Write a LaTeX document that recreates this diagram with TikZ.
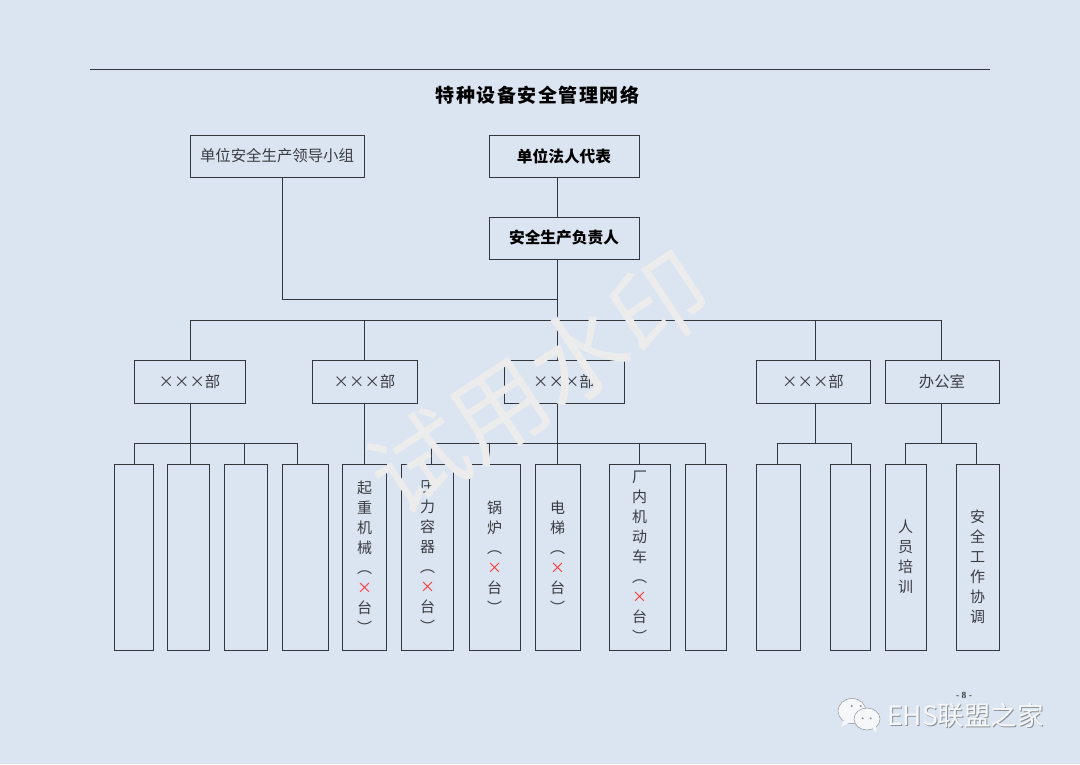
\documentclass[tikz,border=0pt]{standalone}
\usepackage{fontspec}
\setmainfont{Noto Sans CJK SC}
\newfontfamily\latinfont{Liberation Serif}
\usepackage{xcolor}
\usetikzlibrary{positioning,calc}
\definecolor{pagebg}{HTML}{DBE5F1}
\definecolor{inkline}{HTML}{33373D}
\definecolor{inktext}{HTML}{3A3D42}
\definecolor{markgray}{HTML}{ECECEC}
\definecolor{logowhite}{HTML}{F6F7F9}
\definecolor{logoshade}{HTML}{8E939A}
\newcommand{\redx}{\textcolor{red!80!white}{×}}
\tikzset{
  linkline/.style={draw=inkline,line width=1pt},
  topbox/.style={draw=inkline,line width=1pt,inner sep=0pt,minimum height=42pt,text=inktext,font=\fontsize{15.4}{20}\selectfont},
  deptbox/.style={draw=inkline,line width=1pt,inner sep=0pt,minimum height=43pt,text=inktext,font=\fontsize{15.4}{20}\selectfont},
  tallbox/.style={draw=inkline,line width=1pt,inner sep=0pt,minimum height=186pt,text=inktext,align=center,font=\fontsize{15}{20}\selectfont},
  boldbox/.style={topbox,minimum width=150pt,font=\fontsize{15.7}{20}\bfseries\selectfont,text=black},
  logobubble/.style={fill=logowhite,draw=logoshade,line width=0.5pt},
  logoeye/.style={fill=logoshade,draw=none},
}
\begin{document}
\begin{tikzpicture}[x=1pt,y=-1pt]
  \path[use as bounding box,fill=pagebg] (0,0) rectangle (1080,764);

  % head rule and title
  \coordinate (ruleL) at (90,69.5);
  \coordinate (ruleR) at (990,69.5);
  \draw[linkline] (ruleL) -- (ruleR);
  \node[font=\fontsize{19}{20}\bfseries\selectfont,text=black] (title) at (537.5,95) {\addfontfeature{LetterSpace=8}特种设备安全管理网络};

  % top level
  \node[topbox,minimum width=174pt] (leader) at (277,156) {单位安全生产领导小组};
  \node[boldbox] (legal) at (564,156) {单位法人代表};
  \node[boldbox] (safety) at (564,238) {安全生产负责人};

  % departments
  \node[deptbox,minimum width=111pt] (deptA) at (189.5,381.5) {×××部};
  \node[deptbox,minimum width=105pt] (deptB) at (364.5,381.5) {×××部};
  \node[deptbox,minimum width=120pt] (deptC) at (564,381.5) {×××部};
  \node[deptbox,minimum width=114pt] (deptD) at (813,381.5) {×××部};
  \node[deptbox,minimum width=114pt] (office) at (942,381.5) {办公室};

  % bottom row
  \node[tallbox,minimum width=39pt] (a1) at (134,557) {};
  \node[tallbox,minimum width=42pt] (a2) at (188.5,557) {};
  \node[tallbox,minimum width=43pt] (a3) at (246,557) {};
  \node[tallbox,minimum width=46pt] (a4) at (305,557) {};
  \node[tallbox,minimum width=44pt] (crane) at (364.5,557) {起\\重\\机\\械\\︵\\\redx\\台\\︶};
  \node[tallbox,minimum width=52pt] (vessel) at (427.5,557) {压\\力\\容\\器\\︵\\\redx\\台\\︶};
  \node[tallbox,minimum width=51pt] (boiler) at (494.5,557) {锅\\炉\\︵\\\redx\\台\\︶};
  \node[tallbox,minimum width=45pt] (lift) at (557.5,557) {电\\梯\\︵\\\redx\\台\\︶};
  \node[tallbox,minimum width=61pt] (truck) at (639.5,557) {厂\\内\\机\\动\\车\\︵\\\redx\\台\\︶};
  \node[tallbox,minimum width=41pt] (c6) at (705.5,557) {};
  \node[tallbox,minimum width=44pt] (d1) at (778,557) {};
  \node[tallbox,minimum width=40pt] (d2) at (850,557) {};
  \node[tallbox,minimum width=41pt] (train) at (905.5,557) {人\\员\\培\\训};
  \node[tallbox,minimum width=43pt] (coord) at (977.5,557) {\mbox{}\\[12pt]安\\全\\工\\作\\协\\调};

  % junctions
  \coordinate (mainA) at (557,299);
  \coordinate (mainB) at (557,320);
  \coordinate (leaderOut) at (282,177);
  \coordinate (busTopL) at (190,320);
  \coordinate (busTopB) at (364,320);
  \coordinate (busTopD) at (815,320);
  \coordinate (busTopR) at (941,320);
  \coordinate (busAL) at (134,443);
  \coordinate (busAM) at (244.5,443);
  \coordinate (busAR) at (297.5,443);
  \coordinate (busCL) at (431.5,443);
  \coordinate (busCM) at (489,443);
  \coordinate (busCN) at (639,443);
  \coordinate (busCR) at (705.5,443);
  \coordinate (busDL) at (777.5,443);
  \coordinate (busDR) at (851.5,443);
  \coordinate (busEL) at (905.5,443);
  \coordinate (busER) at (976.5,443);

  % upper links
  \draw[linkline] (legal.south -| mainA) -- (safety.north -| mainA);
  \draw[linkline] (safety.south -| mainA) -- (deptC.north -| mainA);
  \draw[linkline] (leaderOut) |- (mainA);
  \draw[linkline] (busTopL) -- (busTopR);
  \draw[linkline] (busTopL) -- (busTopL |- deptA.north);
  \draw[linkline] (busTopB) -- (busTopB |- deptB.north);
  \draw[linkline] (busTopD) -- (busTopD |- deptD.north);
  \draw[linkline] (busTopR) -- (busTopR |- office.north);

  % lower links
  \draw[linkline] (busAL) -- (busAR);
  \draw[linkline] (busTopL |- deptA.south) -- (busTopL |- a2.north);
  \draw[linkline] (busAL) -- (busAL |- a1.north);
  \draw[linkline] (busAM) -- (busAM |- a3.north);
  \draw[linkline] (busAR) -- (busAR |- a4.north);
  \draw[linkline] (busTopB |- deptB.south) -- (busTopB |- crane.north);
  \draw[linkline] (busCL) -- (busCR);
  \draw[linkline] (mainA |- deptC.south) -- (mainA |- lift.north);
  \draw[linkline] (busCL) -- (busCL |- vessel.north);
  \draw[linkline] (busCM) -- (busCM |- boiler.north);
  \draw[linkline] (busCN) -- (busCN |- truck.north);
  \draw[linkline] (busCR) -- (busCR |- c6.north);
  \draw[linkline] (busTopD |- deptD.south) -- (busTopD |- busDL);
  \draw[linkline] (busDL) -- (busDR);
  \draw[linkline] (busDL) -- (busDL |- d1.north);
  \draw[linkline] (busDR) -- (busDR |- d2.north);
  \draw[linkline] (busTopR |- office.south) -- (busTopR |- busEL);
  \draw[linkline] (busEL) -- (busER);
  \draw[linkline] (busEL) -- (busEL |- train.north);
  \draw[linkline] (busER) -- (busER |- coord.north);

  % page number
  \node[font=\latinfont\fontsize{9.5}{10}\bfseries\selectfont,text=inktext] (pageno) at (964,695) {- 8 -};

  % stamp across the sheet
  \node[font=\fontsize{96}{96}\selectfont,text=markgray,rotate=33.5] (stamp) at (539,382) {试用水印};

  % account mark
  \path[logobubble] (852,711) ellipse [x radius=14,y radius=12.5];
  \path[logobubble,draw=none] (844,720) -- (841,727) -- (850,722) -- cycle;
  \path[logobubble] (867,719) ellipse [x radius=13,y radius=11];
  \path[logobubble,draw=none] (872,727) -- (876,733) -- (876,725) -- cycle;
  \fill[logoeye] (851.7,706) circle (1.1) (860.7,706) circle (1.1) (862.7,718.3) circle (1.1) (870.7,718.3) circle (1.1);
  \node[anchor=west,inner sep=0pt,font=\fontsize{26.5}{28}\selectfont,text=logowhite] (account) at (887,716)
    {\rlap{\kern1pt\raisebox{-1pt}{\textcolor{logoshade}{EHS联盟之家}}}EHS联盟之家};
\end{tikzpicture}
\end{document}
